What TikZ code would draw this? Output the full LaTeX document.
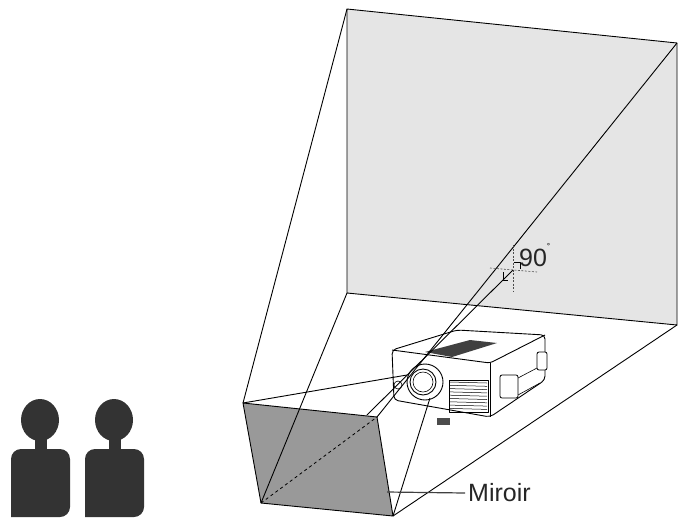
\documentclass[tikz,border=0pt]{standalone}
\usepackage{fontspec}
\setmainfont{Liberation Sans}
\begin{document}
\begin{tikzpicture}[x=1pt,y=-1pt,line join=round,
  ln/.style={black,line width=0.9pt},
  person/.style={fill=black!80,draw=none},
  dsh/.style={black!70,dashed,line width=0.6pt,dash pattern=on 2pt off 1.5pt}]
\useasboundingbox (0,0) rectangle (679,520);
% screen
\coordinate (sTL) at (347,9); \coordinate (sTR) at (677,43);
\coordinate (sBR) at (677,325); \coordinate (sBL) at (347,293);
\fill[black!10] (sTL)--(sTR)--(sBR)--(sBL)--cycle;
\draw[ln] (sTL)--(sTR)--(sBR)--(sBL)--cycle;
% mirror
\coordinate (mTL) at (243,403); \coordinate (mTR) at (377,417);
\coordinate (mBR) at (393,516); \coordinate (mBL) at (261,503);
\fill[black!40] (mTL)--(mTR)--(mBR)--(mBL)--cycle;
\draw[ln] (mTL)--(mTR)--(mBR)--(mBL)--cycle;
\draw[black,dashed,line width=0.8pt] (mBL)--(mTR);
% room lines
\draw[ln] (sTL)--(mTL);
\draw[ln] (sBL)--(mBL);
\draw[ln] (sBR)--(mBR);
% projector
\coordinate (pa) at (392,350); \coordinate (pb) at (457,330);
\coordinate (pc) at (545,335); \coordinate (pd) at (490,363);
\coordinate (pe) at (490,417); \coordinate (pf) at (545,380);
\coordinate (pg) at (394,400);
\draw[ln,fill=white,rounded corners=4pt] (pa)--(pb)--(pc)--(pf)--(pe)--(pg)--cycle;
\draw[ln,rounded corners=3pt] (pa)--(pd)--(pc);
\draw[ln] (pd)--(pe);
\fill[black!75] (425,352)--(470,340)--(497,343)--(452,357)--cycle;
\draw[line width=0.6pt] (398,385) circle (4);
\foreach \i in {0,...,8}{\draw[line width=0.5pt] (450,{382+\i*3.3})--(487,{383+\i*3.3});}
\draw[line width=0.8pt] (449,380) rectangle (488,412);
\draw[line width=0.8pt,fill=white,rounded corners=2pt] (500,375) rectangle (518,398);
\draw[line width=0.8pt,fill=white,rounded corners=2pt] (537,352) rectangle (547,370);
\draw[line width=0.6pt] (518,378)--(537,368) (518,395)--(540,383);
\fill[black!70] (437,418) rectangle (450,425);
% lens
\node[circle,draw,line width=0.9pt,fill=white,minimum size=36pt,inner sep=0] (lens) at (425,382) {};
\draw[line width=0.9pt] (423,382) circle (13);
\draw[line width=0.6pt] (423,382) circle (10);
% beams
\draw[ln] (sTR)--(mTR);
\coordinate (c90) at (513,270);
\draw[ln] (c90)--(367,415);
\draw[ln] (mTL)--(407,375);
\draw[ln] (mBR)--(430,398);
% 90 marker
\draw[dsh] (513,245)--(513,292);
\draw[dsh] (490,268)--(537,272);
\draw[line width=0.6pt] (514,262)--(520,262)--(520,269);
\draw[line width=0.6pt] (503,272)--(503,280)--(508,280);
\node[font=\fontsize{25}{28}\selectfont,anchor=west,inner sep=0,text=black!85] (t90) at (519,255) {90\raisebox{1.1ex}{\fontsize{10}{10}\selectfont˚}};
% Miroir
\node[font=\fontsize{25}{28}\selectfont,anchor=west,inner sep=0,text=black!85] (mir) at (468,493) {Miroir};
\coordinate (mirp) at (387,492);
\draw[black!75,line width=1.2pt] (mirp)--([xshift=-3pt]mir.west);
% people
\foreach \dx in {0,74}{
\begin{scope}[xshift=\dx]
\fill[person] (40,420) ellipse (19 and 21);
\fill[person] (35,436) rectangle (47,452);
\fill[person,rounded corners=10pt] (11,517)--(11,449)--(70,449)--(70,517)[sharp corners]--cycle;
\end{scope}}
\end{tikzpicture}
\end{document}
